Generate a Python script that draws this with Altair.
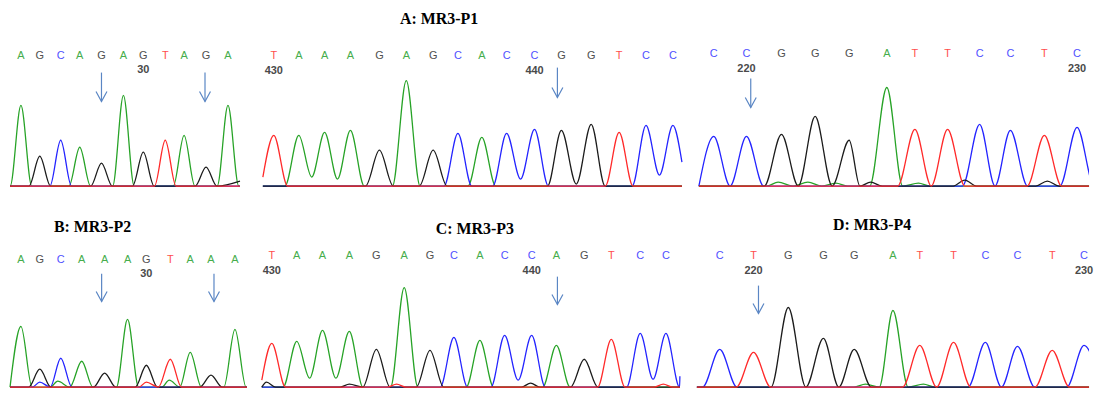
import altair as alt
import pandas as pd

# ---------------- colours ----------------
TRACE_COLORS = {"A": "#27a327", "C": "#2424ff", "G": "#1c1c1c", "T": "#ff2a2a"}
LETTER_COLORS = {"A": "#45ad4b", "C": "#5050ff", "G": "#505050", "T": "#ff4d4d"}
ARROW_COLOR = "#5a86c4"
NUMBER_COLOR = "#4a4a4a"

# ---------------- data: A: MR3-P1 (three reads, top row) ----------------
P1_CALLS = "AGCAGAGTAGA"
P1_PEAK_BASE = "AGCAGAGTAGA"
P1_POS = [0.0, 0.91, 1.92, 2.84, 3.89, 4.95, 5.91, 6.97, 7.88, 8.94, 10.0]
P1_HEIGHT = [81, 30, 46, 39, 23, 91, 34, 46, 51, 19, 81]
P1_MINOR_BASE = []
P1_MINOR_POS = []
P1_MINOR_HEIGHT = []
P1_VALLEY_AFTER = {}
P1_SPAN = [-0.53, 10.58]
P1_EDGE_START = {}
P1_EDGE_END = {"G": 5}
P1_NUM_LABELS = ["30"]
P1_NUM_AT = [6]
P1_ARROWS = [3.89, 8.89]

P2_CALLS = "TAAAGAGCACCGGTCC"
P2_PEAK_BASE = "TAAAGAGCACCGGTCC"
P2_POS = [0.0, 0.94, 1.91, 2.88, 3.97, 4.98, 5.99, 6.92, 7.82, 8.75, 9.80, 10.81, 11.93, 12.98, 13.99, 15.0]
P2_HEIGHT = [51, 51, 54, 56, 36, 106, 36, 53, 49, 53, 57, 56, 62, 54, 61, 61]
P2_MINOR_BASE = []
P2_MINOR_POS = []
P2_MINOR_HEIGHT = []
P2_VALLEY_AFTER = {1: 9, 2: 7, 9: 7, 11: 2, 14: 11}
P2_SPAN = [-0.41, 15.34]
P2_EDGE_START = {"T": 9}
P2_EDGE_END = {"C": 24}
P2_NUM_LABELS = ["430", "440"]
P2_NUM_AT = [0, 10]
P2_ARROWS = [10.66]

P3_CALLS = "CCGGGATTCCTC"
P3_PEAK_BASE = "CCGGGATTCCTC"
P3_POS = [0.0, 0.99, 2.05, 3.07, 4.10, 5.24, 6.09, 7.08, 8.05, 8.98, 10.01, 11.0]
P3_HEIGHT = [50, 50, 52, 70, 46, 99, 57, 57, 62, 56, 51, 59]
P3_MINOR_BASE = ["A", "A", "A", "G", "A", "G", "G"]
P3_MINOR_POS = [1.95, 2.85, 3.7, 4.75, 6.2, 7.6, 10.1]
P3_MINOR_HEIGHT = [4, 4, 3, 4, 3, 6, 5]
P3_VALLEY_AFTER = {}
P3_SPAN = [-0.45, 11.6]
P3_EDGE_START = {}
P3_EDGE_END = {}
P3_NUM_LABELS = ["220", "230"]
P3_NUM_AT = [1, 11]
P3_ARROWS = [1.12]

# ---------------- data: B, C, D (bottom row) ----------------
P4_CALLS = "AGCAAAGTAAA"
P4_PEAK_BASE = "AGCAGAGTAGA"
P4_POS = [0.0, 0.88, 1.86, 2.84, 3.91, 4.98, 5.86, 6.98, 7.91, 8.88, 10.0]
P4_HEIGHT = [61, 18, 29, 26, 14, 68, 22, 28, 35, 12, 58]
P4_MINOR_BASE = ["C", "A", "T", "A"]
P4_MINOR_POS = [0.88, 1.72, 5.86, 6.93]
P4_MINOR_HEIGHT = [5, 6, 5, 7]
P4_VALLEY_AFTER = {}
P4_SPAN = [-0.51, 10.56]
P4_EDGE_START = {}
P4_EDGE_END = {}
P4_NUM_LABELS = ["30"]
P4_NUM_AT = [6]
P4_ARROWS = [3.77, 9.02]

P5_CALLS = "TAAAGAGCACCAGTCC"
P5_PEAK_BASE = "TAAAGAGCACCAGTCC"
P5_POS = [0.0, 0.95, 1.93, 2.95, 3.98, 5.04, 6.02, 6.93, 7.92, 8.86, 9.89, 10.83, 11.89, 12.92, 14.02, 15.0]
P5_HEIGHT = [44, 46, 57, 56, 38, 100, 37, 50, 47, 52, 52, 42, 28, 48, 54, 54]
P5_MINOR_BASE = ["G", "G", "T", "G", "T"]
P5_MINOR_POS = [-0.2, 2.95, 4.75, 9.85, 14.9]
P5_MINOR_HEIGHT = [5, 3, 3, 4, 3]
P5_VALLEY_AFTER = {1: 9, 2: 9, 9: 7, 14: 8}
P5_SPAN = [-0.38, 15.53]
P5_EDGE_START = {"T": 7}
P5_EDGE_END = {"C": 11}
P5_NUM_LABELS = ["430", "440"]
P5_NUM_AT = [0, 10]
P5_ARROWS = [10.87]

P6_CALLS = "CTGGGATTCCTC"
P6_PEAK_BASE = "CTGGGATTCCTC"
P6_POS = [0.0, 1.02, 2.07, 3.13, 4.06, 5.23, 6.04, 7.06, 8.02, 8.99, 10.04, 11.0]
P6_HEIGHT = [38, 35, 80, 49, 38, 77, 42, 45, 45, 41, 37, 42]
P6_MINOR_BASE = ["A", "A"]
P6_MINOR_POS = [4.4, 6.15]
P6_MINOR_HEIGHT = [3, 3]
P6_VALLEY_AFTER = {}
P6_SPAN = [-0.69, 11.4]
P6_EDGE_START = {}
P6_EDGE_END = {"C": 15}
P6_NUM_LABELS = ["220", "230"]
P6_NUM_AT = [1, 11]
P6_ARROWS = [1.17]

TITLES = ["A: MR3-P1", "B: MR3-P2", "C: MR3-P3", "D: MR3-P4"]


def build_knots(peaks, valleys, lo, hi, v_lo, v_hi):
    peaks = sorted(peaks, key=lambda t: t[0])
    knots = []
    for i, (p, h, w, key) in enumerate(peaks):
        if i == 0 or p - peaks[i - 1][0] >= 1.3:
            knots.append((p - w, 0.0))
        knots.append((p, h))
        if i + 1 < len(peaks) and peaks[i + 1][0] - p < 1.3:
            knots.append(((p + peaks[i + 1][0]) / 2, valleys.get(key, 0.0)))
        else:
            knots.append((p + w, 0.0))
    inner = [k for k in knots if lo < k[0] < hi]
    return [(lo, v_lo)] + inner + [(hi, v_hi)]


def make_panel(d, lay):
    rows = []
    per = {c: [] for c in "ACGT"}
    for i, (b, p, h) in enumerate(zip(d["peak_base"], d["pos"], d["height"])):
        per[b].append((p, h, 0.52, i))
    for b, p, h in zip(d["minor_base"], d["minor_pos"], d["minor_height"]):
        per[b].append((p, h, 0.35, None))
    for c in "ACGT":
        knots = build_knots(per[c], d["valleys"], d["span"][0], d["span"][1],
                            d["edge_start"].get(c, 0.0), d["edge_end"].get(c, 0.0))
        for k, (x, y) in enumerate(knots):
            rows.append({"ch": c, "x": x, "y": y, "col": TRACE_COLORS[c], "k": k})
    lines_df = pd.DataFrame(rows)

    letters_df = pd.DataFrame({
        "x": d["pos"],
        "base": list(d["calls"]),
        "col": [LETTER_COLORS[b] for b in d["calls"]],
    })
    nums_df = pd.DataFrame({
        "x": [d["pos"][i] for i in d["num_at"]],
        "label": d["num_labels"],
    })
    arrows_df = pd.DataFrame({"x": d["arrows"]})

    xs = alt.Scale(domain=lay["xdom"], nice=False, zero=False)
    ys = alt.Scale(domain=lay["ydom"], nice=False, zero=False)
    X = alt.X("x:Q", scale=xs, axis=None)

    lines = alt.Chart(lines_df).mark_line(
        interpolate="monotone", strokeWidth=1.3, clip=True
    ).encode(
        x=X,
        y=alt.Y("y:Q", scale=ys, axis=None),
        color=alt.Color("col:N", scale=None),
        order=alt.Order("k:Q"),
    )
    letters = alt.Chart(letters_df).mark_text(
        font="Liberation Sans", fontSize=11, baseline="middle"
    ).encode(
        x=X, y=alt.value(lay["letter_y"]), text="base:N",
        color=alt.Color("col:N", scale=None),
    )
    nums = alt.Chart(nums_df).mark_text(
        font="Liberation Sans", fontSize=11, fontWeight="bold",
        baseline="middle", color=NUMBER_COLOR
    ).encode(x=X, y=alt.value(lay["num_y"]), text="label:N")
    rules = alt.Chart(arrows_df).mark_rule(
        color=ARROW_COLOR, strokeWidth=1.2
    ).encode(x=X, y=alt.value(lay["arrow"][0]), y2=alt.value(lay["arrow"][1]))
    heads = alt.Chart(arrows_df).mark_point(
        shape="M-0.55,-1L0,0L0.55,-1", filled=False, size=400,
        strokeWidth=1.2, color=ARROW_COLOR, opacity=1
    ).encode(x=X, y=alt.value(lay["arrow"][1]))

    layers = [lines, letters, nums, rules, heads]
    if lay.get("title"):
        tdf = pd.DataFrame({"t": [lay["title"]]})
        layers.append(
            alt.Chart(tdf).mark_text(
                font="Liberation Serif", fontSize=16, fontWeight="bold",
                color="black", baseline="middle", align="center"
            ).encode(x=alt.value(lay["title_xy"][0]), y=alt.value(lay["title_xy"][1]), text="t:N")
        )
    return alt.layer(*layers).properties(width=lay["w"], height=lay["h"])


def pack(calls, peak_base, pos, height, mb, mp, mh, valleys, span, es, ee, nl, na, arrows):
    return dict(calls=calls, peak_base=peak_base, pos=pos, height=height,
                minor_base=mb, minor_pos=mp, minor_height=mh, valleys=valleys,
                span=span, edge_start=es, edge_end=ee, num_labels=nl, num_at=na,
                arrows=arrows)


D1 = pack(P1_CALLS, P1_PEAK_BASE, P1_POS, P1_HEIGHT, P1_MINOR_BASE, P1_MINOR_POS, P1_MINOR_HEIGHT,
          P1_VALLEY_AFTER, P1_SPAN, P1_EDGE_START, P1_EDGE_END, P1_NUM_LABELS, P1_NUM_AT, P1_ARROWS)
D2 = pack(P2_CALLS, P2_PEAK_BASE, P2_POS, P2_HEIGHT, P2_MINOR_BASE, P2_MINOR_POS, P2_MINOR_HEIGHT,
          P2_VALLEY_AFTER, P2_SPAN, P2_EDGE_START, P2_EDGE_END, P2_NUM_LABELS, P2_NUM_AT, P2_ARROWS)
D3 = pack(P3_CALLS, P3_PEAK_BASE, P3_POS, P3_HEIGHT, P3_MINOR_BASE, P3_MINOR_POS, P3_MINOR_HEIGHT,
          P3_VALLEY_AFTER, P3_SPAN, P3_EDGE_START, P3_EDGE_END, P3_NUM_LABELS, P3_NUM_AT, P3_ARROWS)
D4 = pack(P4_CALLS, P4_PEAK_BASE, P4_POS, P4_HEIGHT, P4_MINOR_BASE, P4_MINOR_POS, P4_MINOR_HEIGHT,
          P4_VALLEY_AFTER, P4_SPAN, P4_EDGE_START, P4_EDGE_END, P4_NUM_LABELS, P4_NUM_AT, P4_ARROWS)
D5 = pack(P5_CALLS, P5_PEAK_BASE, P5_POS, P5_HEIGHT, P5_MINOR_BASE, P5_MINOR_POS, P5_MINOR_HEIGHT,
          P5_VALLEY_AFTER, P5_SPAN, P5_EDGE_START, P5_EDGE_END, P5_NUM_LABELS, P5_NUM_AT, P5_ARROWS)
D6 = pack(P6_CALLS, P6_PEAK_BASE, P6_POS, P6_HEIGHT, P6_MINOR_BASE, P6_MINOR_POS, P6_MINOR_HEIGHT,
          P6_VALLEY_AFTER, P6_SPAN, P6_EDGE_START, P6_EDGE_END, P6_NUM_LABELS, P6_NUM_AT, P6_ARROWS)

# ---------------- layout ----------------
W1, W2, W3 = 244, 432, 398
H_TOP, H_BOT = 182, 191
Y_TOP = [-4, 178]
Y_BOT = [-1, 190]

L1 = dict(w=W1, h=H_TOP, xdom=[-0.625, 11.106], ydom=Y_TOP, letter_y=47, num_y=61, arrow=(64, 93))
L2 = dict(w=W2, h=H_TOP, xdom=[-0.636, 15.526], ydom=Y_TOP, letter_y=47, num_y=62, arrow=(59, 89),
          title=TITLES[0], title_xy=(183, 10))
L3 = dict(w=W3, h=H_TOP, xdom=[-0.633, 11.362], ydom=Y_TOP, letter_y=45, num_y=60, arrow=(70, 99))
L4 = dict(w=W1, h=H_BOT, xdom=[-0.605, 10.744], ydom=Y_BOT, letter_y=62, num_y=76, arrow=(76, 104),
          title=TITLES[1], title_xy=(85, 29))
L5 = dict(w=W2, h=H_BOT, xdom=[-0.568, 15.796], ydom=Y_BOT, letter_y=58, num_y=73, arrow=(79, 107),
          title=TITLES[2], title_xy=(219, 31))
L6 = dict(w=W3, h=H_BOT, xdom=[-0.812, 11.151], ydom=Y_BOT, letter_y=58, num_y=73, arrow=(88, 116),
          title=TITLES[3], title_xy=(180, 27))

top = alt.hconcat(make_panel(D1, L1), make_panel(D2, L2), make_panel(D3, L3), spacing=6)
bottom = alt.hconcat(make_panel(D4, L4), make_panel(D5, L5), make_panel(D6, L6), spacing=6)

chart = alt.vconcat(top, bottom, spacing=8).properties(padding=0).configure_view(stroke=None)

chart.save("out.html", embed_options={"renderer": "svg", "actions": False})
